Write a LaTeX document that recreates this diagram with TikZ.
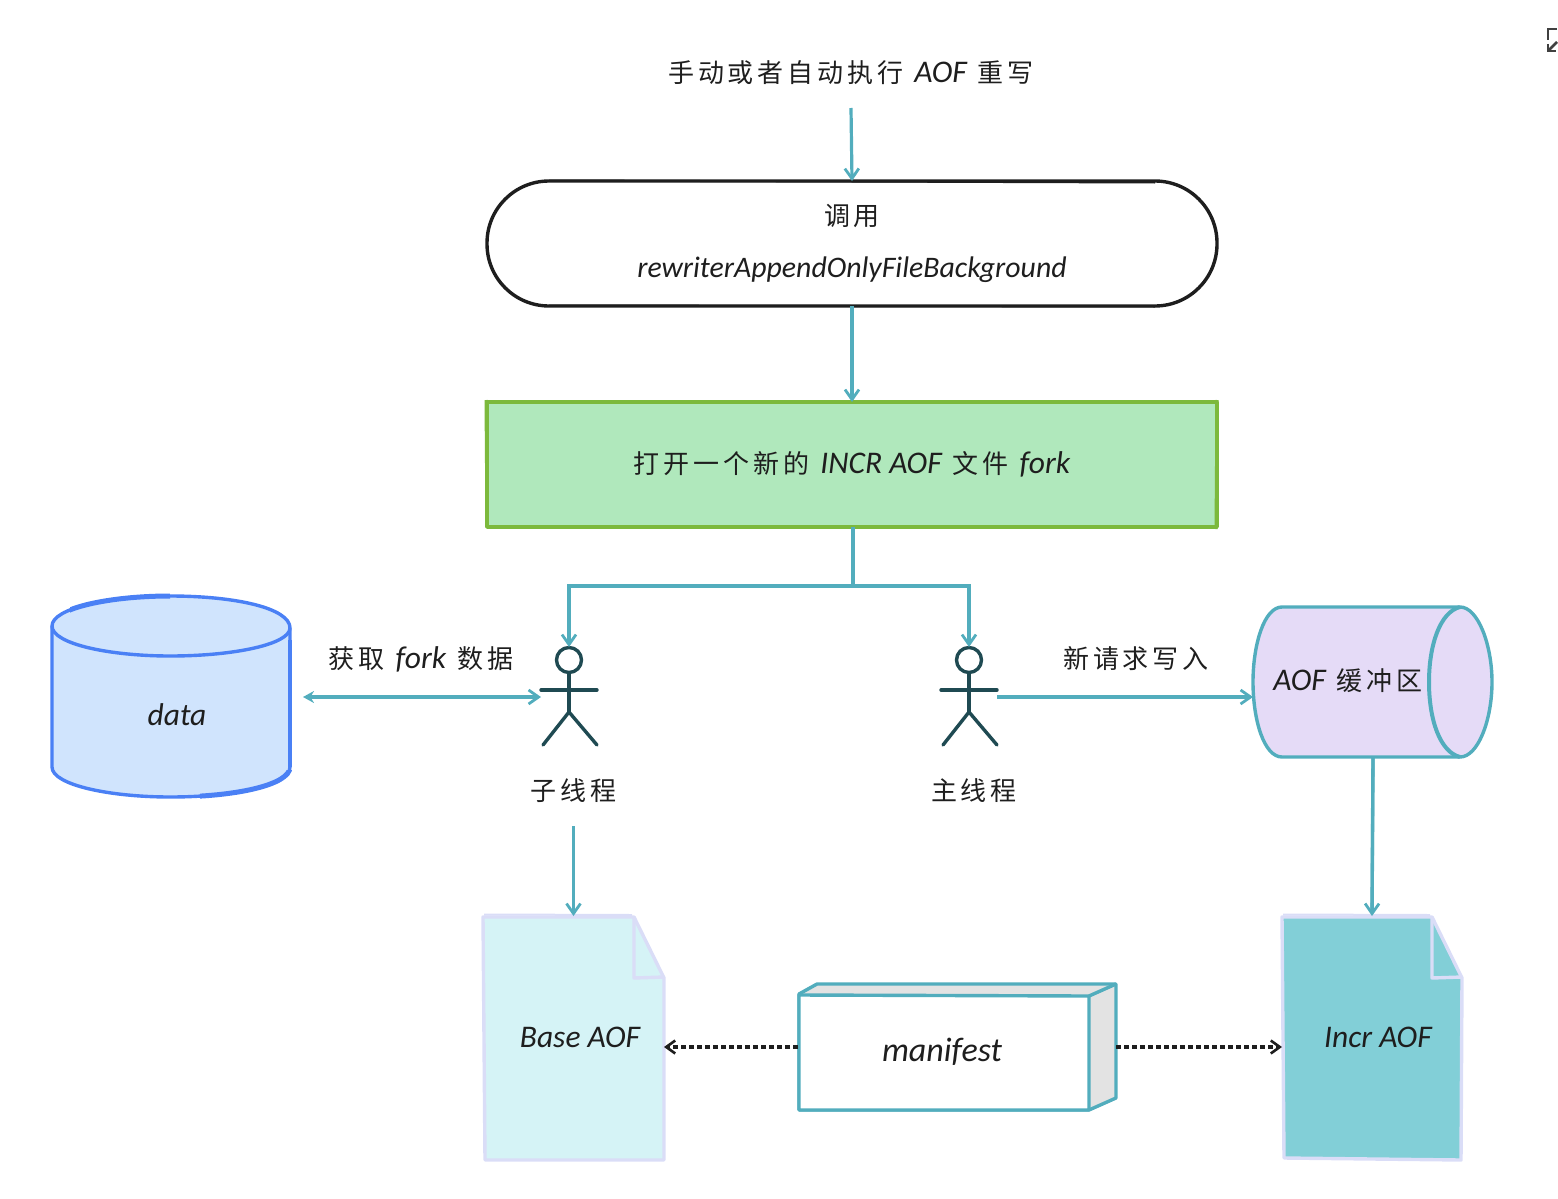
\documentclass[tikz,border=0pt]{standalone}
\usepackage{fontspec}
\setmainfont{Carlito}
\newfontfamily\cjkfam[LetterSpace=15]{Noto Sans CJK SC}
\newcommand{\CN}[1]{{\upshape\cjkfam\fontsize{26}{30}\selectfont #1}}
\newcommand{\gap}{\hspace{11pt}}
\usetikzlibrary{arrows.meta,calc}
\definecolor{teal}{HTML}{52ADBD}
\definecolor{ink}{HTML}{1E1E1E}
\definecolor{dblue}{HTML}{4A80F5}
\definecolor{dbluefill}{HTML}{D0E4FD}
\definecolor{gline}{HTML}{7CB93C}
\definecolor{gfill}{HTML}{B0E8BC}
\definecolor{pfill}{HTML}{E5DBF7}
\definecolor{fline}{HTML}{DADDF7}
\definecolor{bfill}{HTML}{D5F3F6}
\definecolor{ifill}{HTML}{82CFD7}
\definecolor{sidec}{HTML}{E3E3E3}
\definecolor{actorc}{HTML}{1F4A52}
\tikzset{
  txt/.style={font=\fontsize{31.5}{36}\selectfont\itshape,text=ink,inner sep=0pt,align=center},
  region/.style={inner sep=0pt,outer sep=0pt},
  conn/.style={draw=teal,line width=3.2pt,-{Straight Barb[length=10pt,width=14pt,line width=2.8pt]}},
  connbody/.style={draw=teal,line width=4.4pt,shorten >=6pt},
  dconn/.style={draw=ink,line width=3.4pt,dash pattern=on 5pt off 3pt,-{Straight Barb[length=9pt,width=13pt,line width=2.6pt]}},
  shapeline/.style={line width=3.4pt,line join=round},
  limb/.style={draw=actorc,line width=3.4pt,line cap=round},
}
\newcommand{\actor}[2]{% x offset, name
  \begin{scope}[shift={(#1,0)}]
    \draw[limb] (569,660) circle[radius=12.5pt];
    \draw[limb] (569,673) -- (569,712);
    \draw[limb] (541,690) -- (597,690);
    \draw[limb] (543,745) -- (569,712) -- (597,745);
    \node[region,minimum width=56pt,minimum height=100pt] (#2) at (569,697) {};
  \end{scope}}
\begin{document}
\begin{tikzpicture}[x=1pt,y=-1pt]
\useasboundingbox (0,0) rectangle (1558,1199);
% top label
\node[region,txt,minimum width=370pt,minimum height=70pt] (start) at (851,73)
  {\CN{手动或者自动执行}\gap AOF\gap\CN{重写}};
% terminal
\node[region,draw=ink,shapeline,fill=white,rounded corners=62pt,minimum width=730pt,minimum height=125pt] (call) at (852,243.5) {};
\draw[draw=ink,line width=2pt] (549,180.5) -- (1155,182.5) (549,305.5) -- (1155,306.5);
\node[txt] (callA) at (852,216) {\CN{调用}};
\node[txt,font=\fontsize{29.8}{36}\selectfont\itshape] (callB) at (852,270) {rewriterAppendOnlyFileBackground};
% process
\node[region,txt,draw=gline,fill=gfill,shapeline,minimum width=730pt,minimum height=125pt] (fork) at (852,464.5)
  {\CN{打开一个新的}\gap INCR AOF\gap\CN{文件}\gap fork};
\draw[draw=gline,line width=3pt] (486,400) -- (487,528) (1217,400) -- (1216,529);
% data cylinder
\draw[draw=dblue,fill=dbluefill,shapeline] (52,626) -- (52,767)
  .. controls (52,785) and (110,797) .. (170,797)
  .. controls (235,797) and (290,785) .. (290,767) -- (290,628)
  .. controls (290,608) and (235,596) .. (170,596)
  .. controls (110,596) and (52,608) .. (52,626) -- cycle;
\draw[draw=dblue,shapeline] (52,626) .. controls (52,644) and (110,656) .. (170,656)
  .. controls (235,656) and (290,644) .. (290,628);
\begin{scope}
  \clip (70,585) rectangle (170,615);
  \draw[draw=dblue,line width=5pt] (170,596) .. controls (110,596) and (52,608) .. (52,626);
\end{scope}
\begin{scope}
  \clip (200,770) rectangle (300,805);
  \draw[draw=dblue,line width=5pt] (170,797) .. controls (235,797) and (290,785) .. (290,767);
\end{scope}
\draw[draw=dblue,line width=4.4pt] (290,640) -- (290,767);
\node[region,minimum width=242pt,minimum height=202pt] (data) at (171,696) {};
\node[txt] (dataT) at (177,715) {data};
% actors
\actor{0}{child}
\actor{400}{mainact}
\node[region,txt,minimum width=100pt,minimum height=70pt] (childL) at (573.5,791) {\CN{子线程}};
\node[region,txt,minimum width=100pt,minimum height=70pt] (mainL) at (974,791) {\CN{主线程}};
% edge labels
\node[txt] (lab1) at (421,659) {\CN{获取}\gap fork\gap\CN{数据}};
\node[txt] (lab2) at (1136,659) {\CN{新请求写入}};
% buffer cylinder
\draw[draw=teal,fill=pfill,shapeline] (1282,607) -- (1460,607)
  .. controls (1478,607) and (1492,645) .. (1492,682)
  .. controls (1492,720) and (1478,757) .. (1460,757)
  -- (1282,757)
  .. controls (1264,757) and (1253,720) .. (1253,682)
  .. controls (1253,645) and (1264,607) .. (1282,607) -- cycle;
\draw[draw=teal,line width=4pt] (1460,607) .. controls (1440,612) and (1429,645) .. (1429,682)
  .. controls (1429,720) and (1440,752) .. (1460,757);
\node[region,minimum width=240pt,minimum height=151pt] (buf) at (1373,682.5) {};
\node[txt] (bufT) at (1348,681) {AOF\gap\CN{缓冲区}};
% base file
\draw[draw=fline,fill=bfill,shapeline] (483,917) -- (634,917) -- (664,978) -- (664,1160) -- (485,1160) -- cycle;
\draw[draw=fline,shapeline] (634,917) -- (634,978) -- (664,977);
\draw[draw=fline,line width=2pt] (484,914.5) -- (632,915);
\node[region,minimum width=181pt,minimum height=244pt] (base) at (573.5,1038) {};
\node[txt] (baseT) at (580,1037) {Base AOF};
% incr file
\draw[draw=fline,fill=ifill,shapeline] (1282,917) -- (1432,917) -- (1462,978) -- (1461,1160) -- (1284,1158) -- cycle;
\draw[draw=fline,shapeline] (1432,917) -- (1432,978) -- (1462,977);
\draw[draw=fline,line width=2pt] (1283,914.5) -- (1430,915);
\node[region,minimum width=180pt,minimum height=244pt] (incr) at (1372,1038) {};
\node[txt] (incrT) at (1378,1037) {Incr AOF};
% manifest box
\draw[draw=teal,fill=sidec,shapeline] (799,994) -- (817,984) -- (1116,984) -- (1116,1098) -- (1089,1110) -- (799,1110) -- cycle;
\draw[draw=teal,fill=white,shapeline] (799,995) -- (1089,996) -- (1089,1110) -- (799,1110) -- cycle;
\draw[draw=teal,shapeline] (1089,996) -- (1116,984);
\node[region,minimum width=318pt,minimum height=126pt] (mf) at (957,1047) {};
\node[txt,font=\fontsize{34}{40}\selectfont\itshape] (mfT) at (942,1052) {manifest};
% split point
\coordinate (split) at ($(fork.south)+(1,59)$);
% connectors
\draw[conn] (start.south) -- (call.north);
\draw[conn] (call.south) -- (fork.north);
\draw[draw=teal,line width=3.2pt] (fork.south -| split) -- (split);
\draw[conn] (split) -| (child.north);
\draw[conn] (split) -| (mainact.north);
\draw[connbody,shorten <=15pt] (data.east |- child.west) -- (child.west);
\draw[conn,{Stealth[length=11pt,width=12pt]}-{Straight Barb[length=10pt,width=14pt,line width=2.8pt]},shorten <=11pt] (data.east |- child.west) -- (child.west);
\draw[connbody] (mainact.east) -- (buf.west |- mainact.east);
\draw[conn] (mainact.east) -- (buf.west |- mainact.east);
\draw[conn] (childL.south) -- (base.north);
\draw[connbody,line width=3.4pt] (buf.south) -- (incr.north);
\draw[conn] (buf.south) -- (incr.north);
\draw[dconn] (mf.west) -- (base.east |- mf.west);
\draw[dconn] (mf.east) -- (incr.west |- mf.east);
% expand icon
\draw[draw=ink!85,line width=2.8pt] (1557,29) -- (1548,29) -- (1548,40);
\draw[draw=ink!85,line width=2.8pt] (1557,42) -- (1549,50);
\draw[draw=ink!85,line width=2.8pt] (1548,44) -- (1548,51) -- (1556,51);
\end{tikzpicture}
\end{document}
